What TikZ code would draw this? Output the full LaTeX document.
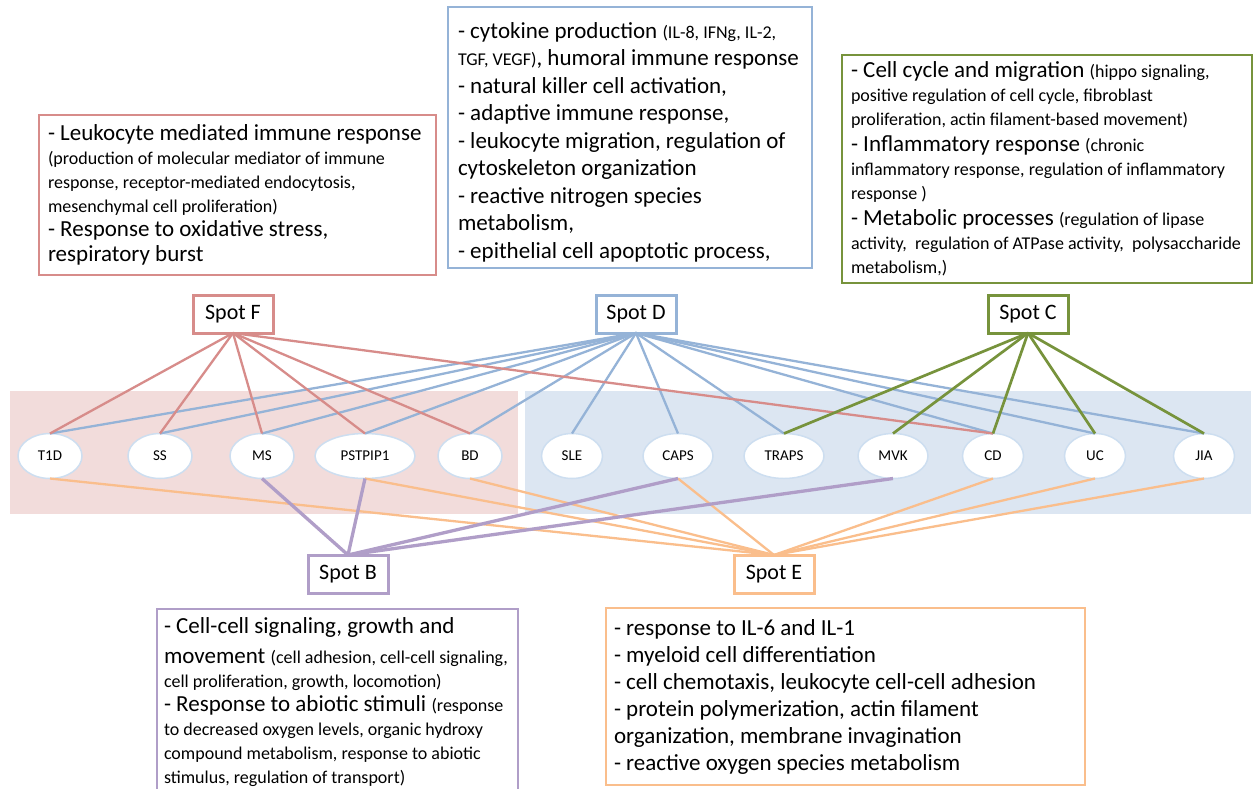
\documentclass[tikz,border=0pt]{standalone}
\usepackage{fontspec}
\setmainfont{Carlito}
\usetikzlibrary{shapes.geometric}
\definecolor{cred}{RGB}{215,140,138}
\definecolor{cblue}{RGB}{149,179,215}
\definecolor{cgreen}{RGB}{119,147,60}
\definecolor{cpurple}{RGB}{176,158,200}
\definecolor{corange}{RGB}{250,190,140}
\definecolor{bgpink}{RGB}{242,220,219}
\definecolor{bgblue}{RGB}{220,230,242}
\definecolor{ellline}{RGB}{205,222,240}
\newcommand\sm[1]{{\fontsize{18}{0}\selectfont #1}}
\newcommand\Ln[1]{\mbox{#1}}
\begin{document}
\begin{tikzpicture}[x=1pt,y=-1pt,
  spot/.style={draw, line width=3pt, fill=white, minimum width=80pt, minimum height=38pt, inner sep=0pt, outer sep=0pt, font=\fontsize{22}{26}\selectfont},
  dis/.style={ellipse, draw=ellline, line width=1.5pt, fill=white, minimum width=64pt, minimum height=45pt, inner sep=0pt, outer sep=0pt, font=\fontsize{15}{18}\selectfont},
  txtbox/.style={draw, line width=2.5pt, fill=white, anchor=north west, align=flush left, outer sep=0pt, inner ysep=0pt},
  link/.style={line width=2.3pt}
]
\useasboundingbox (0,0) rectangle (1256,788);
\clip (0,0) rectangle (1256,788);
\fill[white] (0,0) rectangle (1256,788);
% background bands
\fill[bgpink] (10,391) rectangle (518,514);
\fill[bgblue] (525,391) rectangle (1251,514);

% text boxes
\node[txtbox, draw=cred, inner xsep=9pt, text width=379pt, minimum height=160pt,
  font=\fontsize{23}{24}\selectfont] (tF) at (39,115)
  {\Ln{- Leukocyte mediated immune response}\\
   \Ln{\sm{(production of molecular mediator of immune}}\\
   \Ln{\sm{response, receptor-mediated endocytosis,}}\\
   \Ln{\sm{mesenchymal cell proliferation)}}\\
   \Ln{- Response to oxidative stress,}\\[1pt]
   \Ln{respiratory burst}};
\node[txtbox, draw=cblue, inner xsep=10pt, text width=344pt, minimum height=261pt,
  font=\fontsize{23}{27.5}\selectfont] (tD) at (448,7)
  {\Ln{\rule{0pt}{25pt}- cytokine production \sm{(IL-8, IFNg, IL-2,}}\\
   \Ln{\sm{TGF, VEGF)}, humoral immune response}\\
   \Ln{- natural killer cell activation,}\\
   \Ln{- adaptive immune response,}\\
   \Ln{- leukocyte migration, regulation of}\\
   \Ln{cytoskeleton organization}\\
   \Ln{- reactive nitrogen species}\\
   \Ln{metabolism,}\\
   \Ln{- epithelial cell apoptotic process,}};
\node[txtbox, draw=cgreen, inner xsep=9pt, text width=392pt, minimum height=228pt,
  font=\fontsize{23}{24}\selectfont] (tC) at (842,55)
  {\Ln{- Cell cycle and migration \sm{(hippo signaling,}}\\
   \Ln{\sm{positive regulation of cell cycle, fibroblast}}\\
   \Ln{\sm{proliferation, actin filament-based movement)}}\\[2pt]
   \Ln{- Inflammatory response \sm{(chronic}}\\
   \Ln{\sm{inflammatory response, regulation of inflammatory}}\\
   \Ln{\sm{response )}}\\[2pt]
   \Ln{- Metabolic processes \sm{(regulation of lipase}}\\
   \Ln{\sm{activity,\ \ regulation of ATPase activity,\ \ polysaccharide}}\\
   \Ln{\sm{metabolism,)}}};
\node[txtbox, draw=cpurple, inner xsep=7pt, text width=347pt, minimum height=186pt,
  font=\fontsize{23}{24}\selectfont] (tB) at (157,609)
  {\Ln{- Cell-cell signaling, growth and}\\[6pt]
   \Ln{movement \sm{(cell adhesion, cell-cell signaling,}}\\
   \Ln{\sm{cell proliferation, growth, locomotion)}}\\
   \Ln{- Response to abiotic stimuli \sm{(response}}\\
   \Ln{\sm{to decreased oxygen levels, organic hydroxy}}\\
   \Ln{\sm{compound metabolism, response to abiotic}}\\
   \Ln{\sm{stimulus, regulation of transport)}}};
\node[txtbox, draw=corange, inner xsep=8pt, text width=463pt, minimum height=177pt,
  font=\fontsize{23}{27}\selectfont] (tE) at (606,608)
  {\Ln{- response to IL-6 and IL-1}\\
   \Ln{- myeloid cell differentiation}\\
   \Ln{- cell chemotaxis, leukocyte cell-cell adhesion}\\
   \Ln{- protein polymerization, actin filament}\\
   \Ln{organization, membrane invagination}\\
   \Ln{- reactive oxygen species metabolism}};

% spot boxes
\node[spot, draw=cred] (F) at (233,314) {Spot F};
\node[spot, draw=cblue] (D) at (636,314) {Spot D};
\node[spot, draw=cgreen] (C) at (1028,314) {Spot C};
\node[spot, draw=cpurple] (B) at (348,574) {Spot B};
\node[spot, draw=corange] (E) at (774,574) {Spot E};

% disease ellipses
\node[dis] (T1D) at (50,456) {T1D};
\node[dis] (SS) at (160,456) {SS};
\node[dis] (MS) at (262,456) {MS};
\node[dis, minimum width=100pt] (PST) at (365,456) {PSTPIP1};
\node[dis] (BD) at (470,456) {BD};
\node[dis, minimum width=61pt] (SLE) at (572,456) {SLE};
\node[dis, minimum width=70pt] (CAPS) at (678,456) {CAPS};
\node[dis, minimum width=80pt] (TRAPS) at (784,456) {TRAPS};
\node[dis, minimum width=70pt] (MVK) at (893,456) {MVK};
\node[dis, minimum width=61pt] (CD) at (993,456) {CD};
\node[dis, minimum width=61pt] (UC) at (1095,456) {UC};
\node[dis, minimum width=61pt] (JIA) at (1204,456) {JIA};

% Spot D links
\foreach \n in {T1D,SS,MS,PST,BD,SLE,CAPS,TRAPS,CD,UC,JIA}
  \draw[link, cblue] (D.south) -- (\n.north);
% Spot F links
\foreach \n in {T1D,SS,MS,PST,BD,CD}
  \draw[link, cred] (F.south) -- (\n.north);
% Spot C links
\foreach \n in {TRAPS,MVK,CD,UC,JIA}
  \draw[link, cgreen, line width=2.7pt] (C.south) -- (\n.north);
% Spot E links
\foreach \n in {T1D,PST,BD,CAPS,CD,UC,JIA}
  \draw[link, corange] (E.north) -- (\n.south);
% Spot B links
\foreach \n in {MS,PST,CAPS,MVK}
  \draw[link, cpurple, line width=3.3pt] (B.north) -- (\n.south);
\end{tikzpicture}
\end{document}
